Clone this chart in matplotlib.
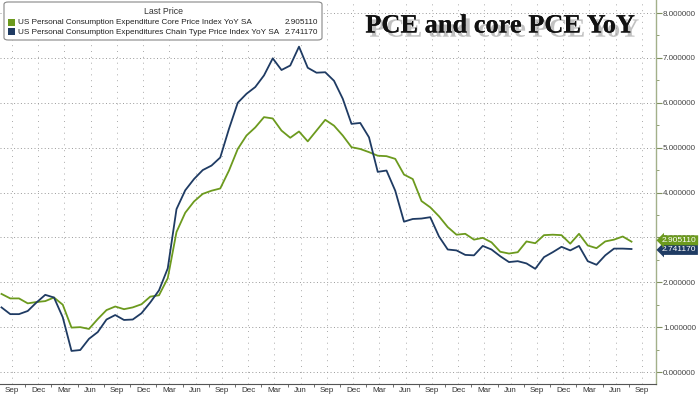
import matplotlib
matplotlib.use('Agg')
import matplotlib.pyplot as plt
import matplotlib.patheffects as pe
import matplotlib.transforms as mtransforms
from matplotlib.patches import FancyBboxPatch, Rectangle
import numpy as np
import pandas as pd

# ---------------- data ----------------
months = pd.period_range('2019-08', '2025-08', freq='M')

core_pce = [1.74, 1.64, 1.64, 1.53, 1.56, 1.58, 1.66, 1.50, 0.99, 1.00,
            0.96, 1.18, 1.38, 1.46, 1.40, 1.44, 1.51, 1.68, 1.71, 2.09,
            3.12, 3.55, 3.80, 3.97, 4.04, 4.09, 4.49, 4.97, 5.27, 5.45,
            5.68, 5.65, 5.38, 5.22, 5.36, 5.14, 5.38, 5.62, 5.49, 5.27,
            5.01, 4.97, 4.90, 4.82, 4.81, 4.75, 4.40, 4.30, 3.81, 3.67,
            3.47, 3.23, 3.06, 3.08, 2.95, 2.99, 2.89, 2.68, 2.64, 2.67,
            2.91, 2.87, 3.05, 3.06, 3.05, 2.86, 3.08, 2.82, 2.76, 2.91,
            2.95, 3.02, 2.905110]

pce = [1.44, 1.29, 1.29, 1.36, 1.55, 1.72, 1.66, 1.22, 0.47, 0.49,
       0.74, 0.89, 1.17, 1.27, 1.16, 1.17, 1.31, 1.55, 1.82, 2.31,
       3.63, 4.05, 4.30, 4.50, 4.60, 4.78, 5.42, 6.00, 6.20, 6.35,
       6.61, 6.99, 6.73, 6.83, 7.25, 6.78, 6.67, 6.68, 6.49, 6.09,
       5.53, 5.55, 5.23, 4.46, 4.49, 4.04, 3.35, 3.41, 3.42, 3.45,
       3.02, 2.73, 2.71, 2.61, 2.60, 2.81, 2.73, 2.58, 2.45, 2.47,
       2.42, 2.30, 2.56, 2.67, 2.79, 2.71, 2.81, 2.47, 2.39, 2.60,
       2.75, 2.75, 2.741170]

tick_months = pd.period_range('2019-09', '2025-09', freq='M')[::3]
tick_labels = [p.strftime('%b') for p in tick_months]
y_ticks = [0, 1, 2, 3, 4, 5, 6, 7, 8]

series_names = ['US Personal Consumption Expenditure Core Price Index YoY SA',
                'US Personal Consumption Expenditures Chain Type Price Index YoY SA']
last_values = [core_pce[-1], pce[-1]]

# ---------------- style ----------------
GREEN = '#6c9a1e'
BLUE = '#1f3b63'
FONT = 'Liberation Sans'
W, H = 700, 394

def fx(x):
    return x / W

def fy(y):
    return 1 - y / H

base = pd.Period('2019-09', freq='M')
x = np.array([(p - base).n for p in months], dtype=float)
tick_x = np.array([(p - base).n for p in tick_months], dtype=float) + 0.2

fig = plt.figure(figsize=(7, 3.94), dpi=100)
ax = fig.add_axes([0, 10 / H, 656 / W, 384 / H])

ax.plot(x, core_pce, color=GREEN, lw=1.3, zorder=3)
ax.plot(x, pce, color=BLUE, lw=1.3, zorder=3)

ax.set_xlim(-1.171, 73.8)
ax.set_ylim(-0.267, 8.29)

# x axis
ax.set_xticks(tick_x)
ax.set_xticklabels(tick_labels, fontsize=5.8, color='#333333', family=FONT)
ax.set_xticks(tick_x[:-1] + 1.5, minor=True)
ax.tick_params(axis='x', which='major', length=0, pad=2)
ax.tick_params(axis='x', which='minor', length=2, color='#555555', direction='out')

# y axis on right
ax.yaxis.tick_right()
ax.set_yticks(y_ticks)
ax.set_yticklabels([f'{v:.6f}' for v in y_ticks], fontsize=5.8, color='#444444', family=FONT)
ax.set_yticks(np.arange(0.5, 8.5, 1.0), minor=True)
ax.tick_params(axis='y', which='major', length=4, color='#7f8f5f', pad=1)
ax.tick_params(axis='y', which='minor', length=2, color='#7f8f5f')

for s in ['top', 'left']:
    ax.spines[s].set_visible(False)
ax.spines['right'].set_color('#a3b08a')
ax.spines['right'].set_linewidth(1.0)
ax.spines['bottom'].set_color('#555555')
ax.spines['bottom'].set_linewidth(0.8)

ax.grid(axis='y', which='major', color='#999999', linestyle=(0, (1, 2.5)), lw=0.7)
ax.grid(axis='x', which='major', color='#aaaaaa', linestyle=(0, (1, 5)), lw=0.7)
ax.set_axisbelow(True)

# right-side last value tags
trans = mtransforms.blended_transform_factory(ax.transAxes, ax.transData)
ax.text(1.009, last_values[1] - 0.02, f'{last_values[1]:.6f}', transform=trans,
        fontsize=6.0, color='white', family=FONT, va='center', ha='left',
        bbox=dict(boxstyle='larrow,pad=0.18', fc=BLUE, ec='none'), clip_on=False, zorder=5)
ax.text(1.009, last_values[0] + 0.03, f'{last_values[0]:.6f}', transform=trans,
        fontsize=6.0, color='white', family=FONT, va='center', ha='left',
        bbox=dict(boxstyle='larrow,pad=0.18', fc=GREEN, ec='none'), clip_on=False, zorder=6)

# legend box
box = FancyBboxPatch((fx(4), fy(40)), fx(318), 38 / H,
                     boxstyle='round,pad=0,rounding_size=0.006',
                     transform=fig.transFigure, fc='white', ec='#888888', lw=0.8, zorder=10)
fig.patches.append(box)
fig.text(fx(163), fy(12), 'Last Price', fontsize=6.3, color='#333333', family=FONT,
         ha='center', va='center', zorder=11)
row_y = [22.5, 32]
for name, val, col, yy in zip(series_names, last_values, [GREEN, BLUE], row_y):
    sq = Rectangle((fx(8), fy(yy + 3.2)), fx(7), 7 / H, transform=fig.transFigure,
                   fc=col, ec='none', zorder=11)
    fig.patches.append(sq)
    fig.text(fx(18), fy(yy), name, fontsize=5.9, color='#222222', family=FONT,
             ha='left', va='center', zorder=11)
    fig.text(fx(318), fy(yy), f'{val:.6f}', fontsize=5.9, color='#222222', family=FONT,
             ha='right', va='center', zorder=11)

# title
fig.text(fx(500), fy(26), 'PCE and core PCE YoY', fontsize=19, fontweight='bold',
         family='Liberation Serif', color='#111111', ha='center', va='center', zorder=12,
         path_effects=[pe.withSimplePatchShadow(offset=(3, -3), shadow_rgbFace='#777777', alpha=0.45),
                       pe.Normal()])

fig.savefig('out.png', dpi=100, facecolor='white')
